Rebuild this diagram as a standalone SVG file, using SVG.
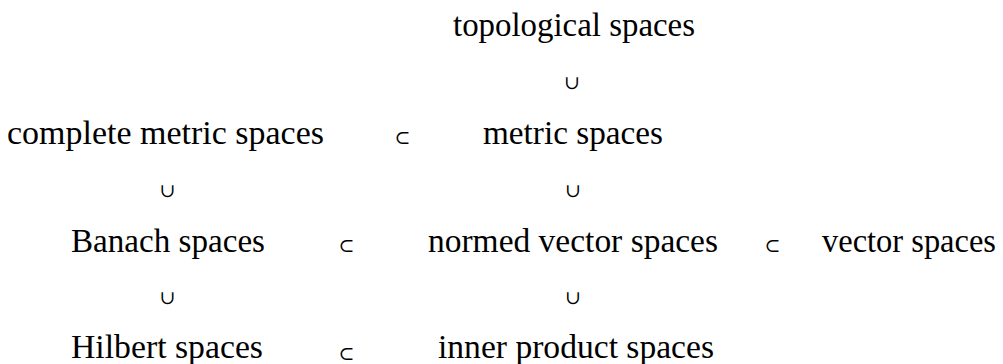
<svg xmlns="http://www.w3.org/2000/svg" width="1003" height="364" viewBox="0 0 1003 364">
<style>
.n{font-family:"Liberation Serif","Times New Roman",serif;font-size:34px;fill:#000;text-anchor:start}
.r{font-family:"DejaVu Serif","DejaVu Sans",serif;font-size:19px;fill:#000;text-anchor:middle}
</style>
<rect width="1003" height="364" fill="#fff"/>
<g id="topological"><text class="n" x="453" y="36" textLength="242" lengthAdjust="spacingAndGlyphs">topological spaces</text></g>
<g id="complete-metric"><text class="n" x="7" y="144" textLength="317" lengthAdjust="spacingAndGlyphs">complete metric spaces</text></g>
<g id="metric"><text class="n" x="483" y="144" textLength="180" lengthAdjust="spacingAndGlyphs">metric spaces</text></g>
<g id="banach"><text class="n" x="71" y="252" textLength="194" lengthAdjust="spacingAndGlyphs">Banach spaces</text></g>
<g id="normed"><text class="n" x="428" y="252" textLength="290" lengthAdjust="spacingAndGlyphs">normed vector spaces</text></g>
<g id="vector"><text class="n" x="822" y="252" textLength="174" lengthAdjust="spacingAndGlyphs">vector spaces</text></g>
<g id="hilbert"><text class="n" x="71" y="358" textLength="192" lengthAdjust="spacingAndGlyphs">Hilbert spaces</text></g>
<g id="inner-product"><text class="n" x="438" y="358" textLength="276" lengthAdjust="spacingAndGlyphs">inner product spaces</text></g>
<g id="connectors">
<text class="r" x="572" y="89">∪</text>
<text class="r" x="402.5" y="144">⊂</text>
<text class="r" x="167.5" y="197">∪</text>
<text class="r" x="573" y="197">∪</text>
<text class="r" x="346.5" y="252">⊂</text>
<text class="r" x="772.5" y="252">⊂</text>
<text class="r" x="167.5" y="304">∪</text>
<text class="r" x="573" y="304">∪</text>
<text class="r" x="346.5" y="360">⊂</text>
</g>
</svg>
